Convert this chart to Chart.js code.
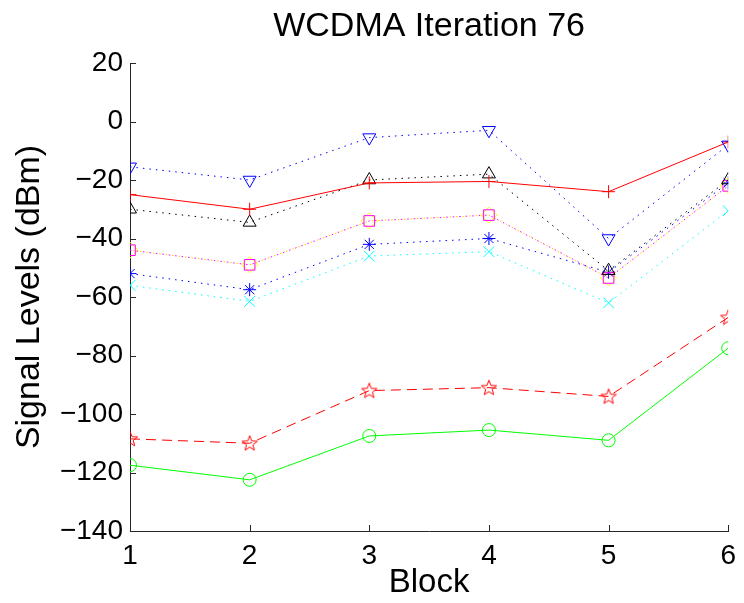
<!DOCTYPE html>
<html>
<head>
<meta charset="utf-8">
<title>WCDMA Iteration 76</title>
<script src="https://cdn.jsdelivr.net/npm/chart.js@4.4.1/dist/chart.umd.min.js"></script>
<style>
  html, body { margin: 0; padding: 0; background: #fff; }
  #chart { display: block; }
</style>
</head>
<body>
<canvas id="chart" width="744" height="603"></canvas>
<script>
// Blocks along the x axis
const blocks = [1, 2, 3, 4, 5, 6];
const yTicks = [20, 0, -20, -40, -60, -80, -100, -120, -140];

// Signal levels (dBm) per series
const downTriangle = [-15.5, -20, -5.5, -3, -40, -8];
const plusLine     = [-25, -30, -21, -20.5, -24, -7];
const upTriangle   = [-30, -34.5, -20, -18, -51, -20];
const squareLine   = [-44, -49, -34, -32, -53.5, -22];
const diamondLine  = [-44, -49, -34, -32, -53.5, -22];
const asteriskLine = [-52, -57.5, -42, -40, -51.5, -21];
const crossLine    = [-56, -61.5, -46, -44.5, -62, -30.5];
const starLine     = [-108.5, -110, -92, -91, -94, -67];
const circleLine   = [-117.5, -122.5, -107.5, -105.5, -109, -77.5];

const FONT = 'Liberation Sans, Arial, Helvetica, sans-serif';
const AXIS_COLOR = '#262626';

// five pointed star outline used as a point style
function makePentagram(color) {
  const size = 18;
  const c = document.createElement('canvas');
  c.width = size;
  c.height = size;
  const g = c.getContext('2d');
  const cx = size / 2, cy = size / 2 + 0.5;
  const outer = 8, inner = 3.4;
  g.beginPath();
  for (let i = 0; i < 10; i++) {
    const r = i % 2 === 0 ? outer : inner;
    const a = -Math.PI / 2 + i * Math.PI / 5;
    const px = cx + r * Math.cos(a);
    const py = cy + r * Math.sin(a);
    if (i === 0) g.moveTo(px, py); else g.lineTo(px, py);
  }
  g.closePath();
  g.strokeStyle = color;
  g.lineWidth = 1;
  g.stroke();
  return c;
}

function toPoints(values) {
  return values.map((v, i) => ({ x: blocks[i], y: v }));
}

function series(label, values, color, style, radius, dash, extra) {
  return Object.assign({
    label: label,
    data: toPoints(values),
    borderColor: color,
    borderWidth: 1,
    borderDash: dash,
    pointStyle: style,
    pointRadius: radius,
    pointHoverRadius: radius,
    pointBorderColor: color,
    pointBorderWidth: 1,
    pointBackgroundColor: 'rgba(0,0,0,0)',
    fill: false,
    tension: 0
  }, extra || {});
}

const DOT = [1.5, 5];

// MATLAB style inward tick marks on the left and bottom axes
const inwardTicks = {
  id: 'inwardTicks',
  afterDatasetsDraw(chart) {
    const { ctx, chartArea, scales } = chart;
    ctx.save();
    ctx.strokeStyle = AXIS_COLOR;
    ctx.lineWidth = 1;
    ctx.beginPath();
    yTicks.forEach(v => {
      const y = Math.round(scales.y.getPixelForValue(v)) + 0.5;
      ctx.moveTo(chartArea.left, y);
      ctx.lineTo(chartArea.left + 6, y);
    });
    blocks.forEach(b => {
      const x = Math.round(scales.x.getPixelForValue(b)) + 0.5;
      ctx.moveTo(x, chartArea.bottom);
      ctx.lineTo(x, chartArea.bottom - 6);
    });
    ctx.stroke();
    ctx.restore();
  }
};

const ctx = document.getElementById('chart');

new Chart(ctx, {
  type: 'line',
  data: {
    datasets: [
      series('Down triangle', downTriangle, '#0000ff', 'triangle', 7.5, DOT, { pointRotation: 180 }),
      series('Plus', plusLine, '#ff0000', 'cross', 6.5, []),
      series('Up triangle', upTriangle, '#000000', 'triangle', 7.5, DOT),
      series('Square', squareLine, '#ff00ff', 'rect', 7.5, DOT),
      series('Diamond', diamondLine, '#ffcc00', 'rectRot', 8, DOT, { borderDashOffset: 3, pointBorderColor: '#ffff00' }),
      series('Asterisk', asteriskLine, '#0000ff', 'star', 6.5, DOT),
      series('Cross', crossLine, '#00ffff', 'crossRot', 7.5, DOT),
      series('Pentagram', starLine, '#ff0000', makePentagram('#ff0000'), 9, [10, 6]),
      series('Circle', circleLine, '#00ff00', 'circle', 6.5, [])
    ]
  },
  options: {
    responsive: false,
    devicePixelRatio: 1,
    animation: false,
    layout: {
      padding: { left: 0, right: 12, top: 0, bottom: 0 }
    },
    plugins: {
      legend: { display: false },
      tooltip: { enabled: false },
      title: {
        display: true,
        fullSize: false,
        text: 'WCDMA Iteration 76',
        color: '#000',
        font: { family: FONT, size: 34, weight: 'normal', lineHeight: 1.2 },
        padding: { top: 6.6, bottom: 15.6 }
      }
    },
    scales: {
      x: {
        type: 'linear',
        min: 1,
        max: 6,
        afterFit: scale => { scale.height = 72; },
        grid: { display: false, drawTicks: false },
        border: { display: true, color: AXIS_COLOR, width: 1 },
        ticks: {
          stepSize: 1,
          color: '#000',
          padding: 8,
          maxRotation: 0,
          font: { family: FONT, size: 28 },
          callback: v => String(v)
        },
        title: {
          display: true,
          text: 'Block',
          color: '#000',
          font: { family: FONT, size: 33, lineHeight: 1.2 },
          padding: { top: 0, bottom: 0 }
        }
      },
      y: {
        type: 'linear',
        min: -140,
        max: 20,
        afterFit: scale => { scale.width = 130; },
        grid: { display: false, drawTicks: false },
        border: { display: true, color: AXIS_COLOR, width: 1 },
        ticks: {
          stepSize: 20,
          color: '#000',
          padding: 7,
          font: { family: FONT, size: 28 },
          callback: v => (v < 0 ? '\u2212' + Math.abs(v) : String(v))
        },
        title: {
          display: true,
          text: 'Signal Levels (dBm)',
          color: '#000',
          font: { family: FONT, size: 34, lineHeight: 1.2 },
          padding: { top: 9.6, bottom: 0 }
        }
      }
    }
  },
  plugins: [inwardTicks]
});
</script>
</body>
</html>
